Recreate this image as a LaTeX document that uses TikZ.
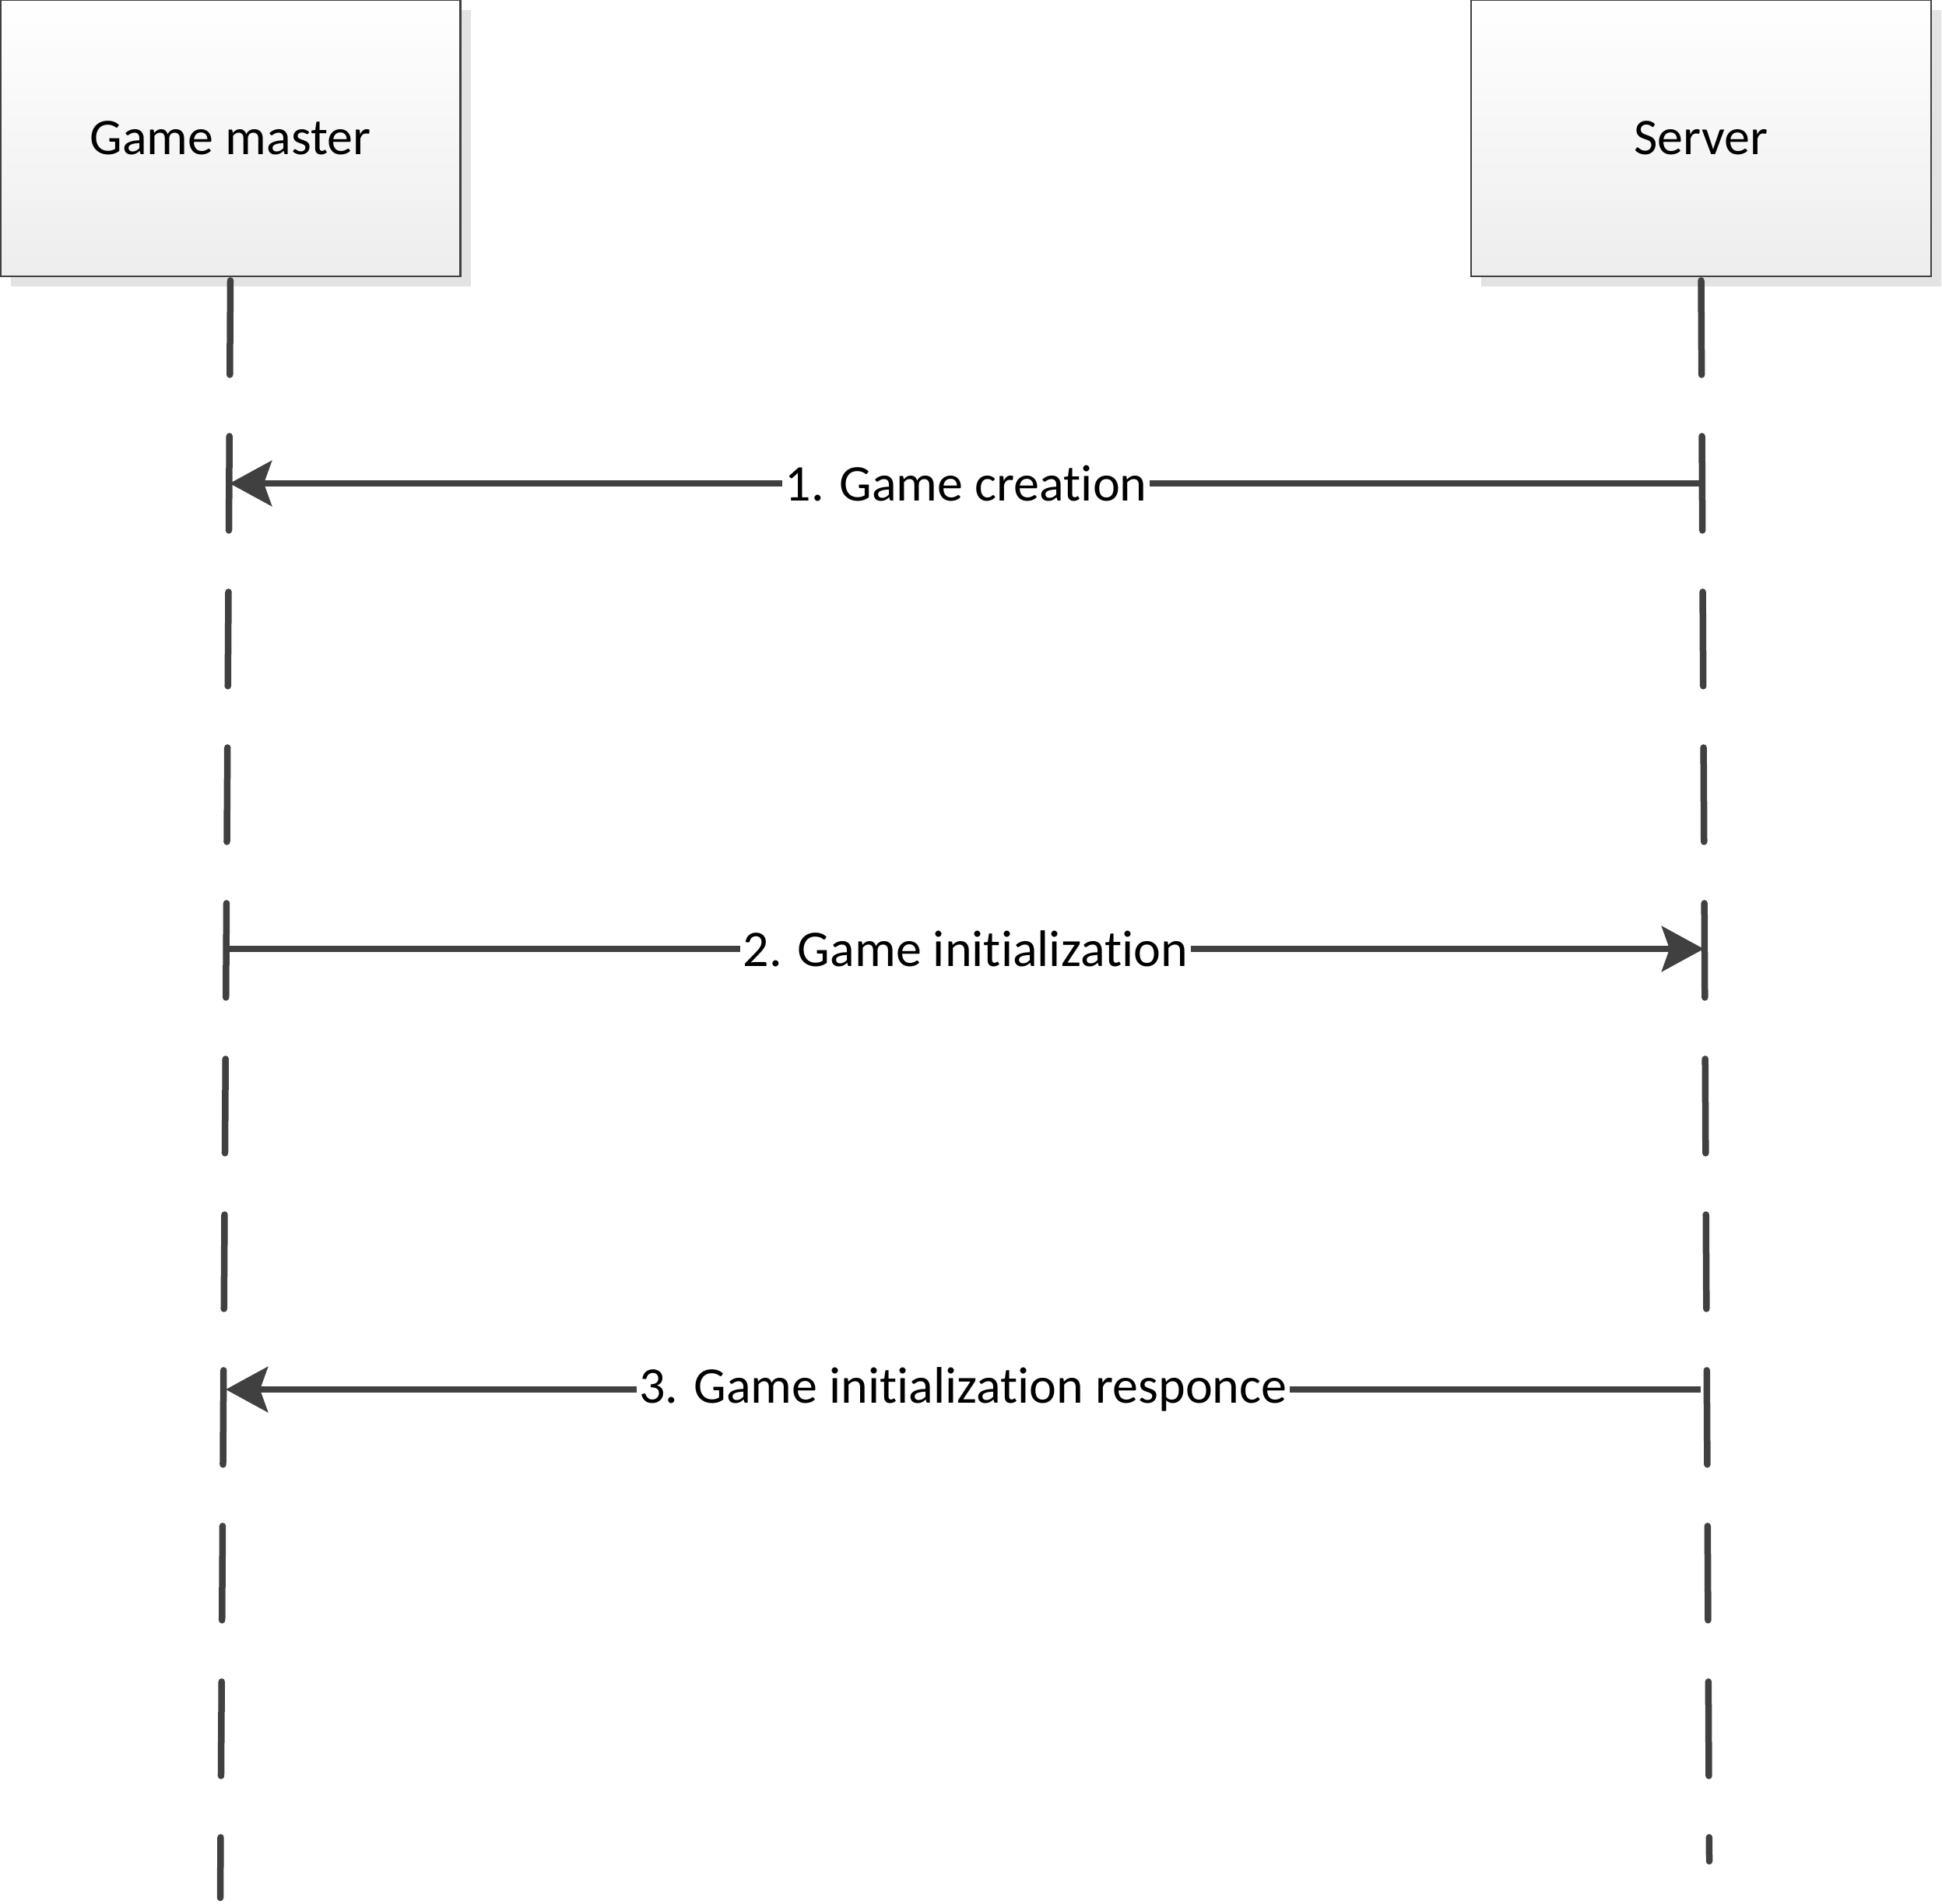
\documentclass[tikz,border=0pt]{standalone}
\usepackage{fontspec}
\setmainfont{Carlito}[Ligatures={NoCommon}]
\usetikzlibrary{arrows.meta, calc, shadows}
\definecolor{linegray}{HTML}{404040}
\tikzset{
  actor box/.style={
    draw=linegray,
    line width=0.8pt,
    top color=white,
    bottom color=black!7,
    minimum width=5.91cm,
    minimum height=3.55cm,
    inner sep=0pt,
    font=\fontsize{18.8}{22}\selectfont,
    drop shadow={shadow xshift=0.13cm, shadow yshift=-0.13cm, fill=black!11, opacity=1}
  },
  lifeline/.style={
    draw=linegray,
    line width=0.085cm,
    line cap=round,
    dash pattern=on 1.21cm off 0.79cm
  },
  message/.style={
    draw=linegray,
    line width=0.085cm,
    -{Stealth[length=0.54cm, width=0.58cm, inset=0.1cm]}
  },
  message label/.style={
    fill=white,
    inner xsep=1pt,
    inner ysep=0pt,
    font=\fontsize{18.8}{22}\selectfont
  }
}
\begin{document}
\begin{tikzpicture}
    \useasboundingbox (0,0) rectangle (24.95,-24.45);

    % Teilnehmer
    \node[actor box] (gm) at (2.96,-1.775) {Game master};
    \node[actor box] (srv) at (21.855,-1.775) {Server};

    % Lebenslinien
    \coordinate (gm end) at (2.83,-24.38);
    \coordinate (srv end) at (21.96,-23.91);
    \draw[lifeline] ($(gm.south)+(0,-0.04)$) -- (gm end);
    \draw[lifeline] ($(srv.south)+(0,-0.04)$) -- (srv end);

    % Nachrichten
    \coordinate (srv1) at (21.87,-6.21);
    \coordinate (gm1) at (2.95,-6.21);
    \coordinate (gm2) at (2.92,-12.19);
    \coordinate (srv2) at (21.89,-12.19);
    \coordinate (srv3) at (21.85,-17.85);
    \coordinate (gm3) at (2.90,-17.85);

    \draw[message] (srv1) -- node[message label] {1. Game creation} (gm1);
    \draw[message] (gm2) -- node[message label] {2. Game initialization} (srv2);
    \draw[message] (srv3) -- node[message label] {3. Game initialization responce} (gm3);

\end{tikzpicture}
\end{document}
